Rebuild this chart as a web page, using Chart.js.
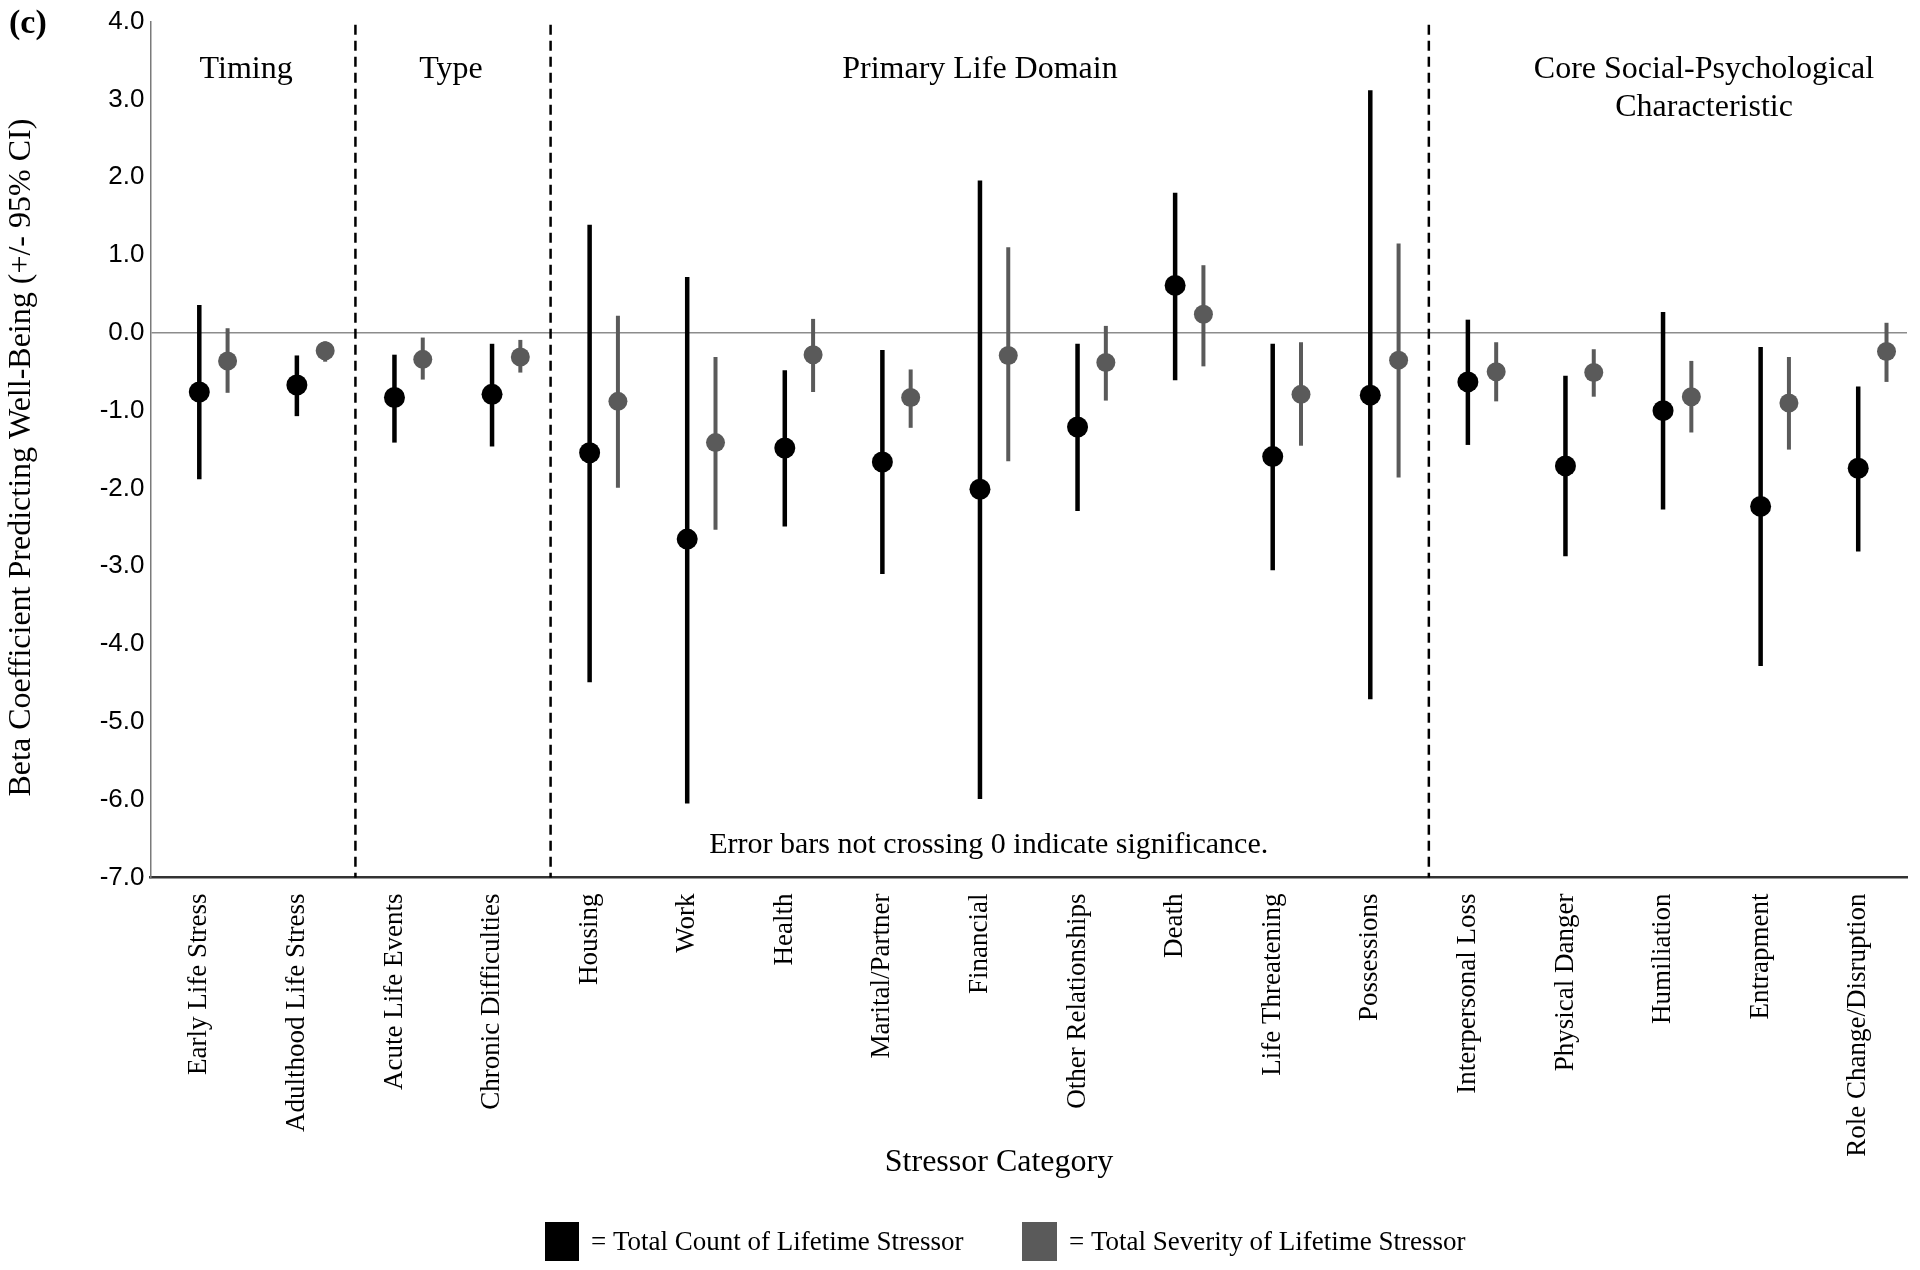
<!DOCTYPE html>
<html>
<head>
<meta charset="utf-8">
<title>Stressor category betas</title>
<script src="https://cdn.jsdelivr.net/npm/chart.js@4.4.0/dist/chart.umd.min.js"></script>
<style>
  html, body { margin: 0; padding: 0; background: #fff; overflow: hidden; }
  #wrap { width: 1920px; height: 1270px; position: relative; }
</style>
</head>
<body>
<div id="wrap"><canvas id="chart"></canvas></div>
<script>
// categorias del eje x
const categories = [
  "Early Life Stress", "Adulthood Life Stress", "Acute Life Events", "Chronic Difficulties",
  "Housing", "Work", "Health", "Marital/Partner", "Financial", "Other Relationships",
  "Death", "Life Threatening", "Possessions", "Interpersonal Loss", "Physical Danger",
  "Humiliation", "Entrapment", "Role Change/Disruption"
];

// total count of lifetime stressor (beta y 95% CI)
const countBeta = [-0.76, -0.67, -0.83, -0.79, -1.54, -2.65, -1.48, -1.66, -2.01, -1.21, 0.61, -1.59, -0.80, -0.63, -1.71, -1.00, -2.23, -1.74];
const countLow  = [-1.88, -1.07, -1.41, -1.46, -4.49, -6.05, -2.49, -3.10, -5.99, -2.29, -0.61, -3.05, -4.71, -1.44, -2.87, -2.27, -4.28, -2.81];
const countHigh = [ 0.36, -0.29, -0.28, -0.14,  1.39,  0.72, -0.48, -0.22,  1.96, -0.14,  1.80, -0.14,  3.12,  0.17, -0.55,  0.27, -0.18, -0.69];

// total severity of lifetime stressor
const severityBeta = [-0.36, -0.23, -0.34, -0.31, -0.88, -1.41, -0.28, -0.83, -0.29, -0.38, 0.24, -0.79, -0.35, -0.50, -0.51, -0.82, -0.90, -0.24];
const severityLow  = [-0.77, -0.37, -0.60, -0.51, -1.99, -2.53, -0.76, -1.22, -1.65, -0.87, -0.43, -1.45, -1.86, -0.88, -0.82, -1.28, -1.50, -0.63];
const severityHigh = [ 0.06, -0.11, -0.06, -0.09,  0.22, -0.31,  0.18, -0.47,  1.10,  0.09,  0.87, -0.12,  1.15, -0.12, -0.21, -0.36, -0.31,  0.13];

// separadores de grupos (en unidades de categoria) y titulos de grupo
const groupDividers = [1.6, 3.6, 12.6];
const groupLabels = [
  { x: 0.48, lines: ["Timing"] },
  { x: 2.58, lines: ["Type"] },
  { x: 8.0,  lines: ["Primary Life Domain"] },
  { x: 15.42, lines: ["Core Social-Psychological", "Characteristic"] }
];

const yTicks = [4, 3, 2, 1, 0, -1, -2, -3, -4, -5, -6, -7];

const BLACK = "#000000";
const GREY = "#5a5a5a";
const SEV_SHIFT = 0.29; // desplazamiento del segundo punto dentro de cada categoria
const SERIF = "'Liberation Serif', 'Times New Roman', serif";
const SANS = "'Liberation Sans', Arial, sans-serif";

const countPoints = countBeta.map((v, i) => ({ x: i, y: v }));
const severityPoints = severityBeta.map((v, i) => ({ x: i + SEV_SHIFT, y: v }));

// barras de error + lineas discontinuas
const errorBarsPlugin = {
  id: "errorBars",
  beforeDatasetsDraw(chart) {
    const { ctx, chartArea, scales: { x, y } } = chart;
    ctx.save();

    // separadores
    ctx.strokeStyle = "#000";
    ctx.lineWidth = 2.5;
    ctx.setLineDash([10, 6]);
    groupDividers.forEach(d => {
      const px = x.getPixelForValue(d);
      ctx.beginPath();
      ctx.moveTo(px, chartArea.top + 3);
      ctx.lineTo(px, chartArea.bottom);
      ctx.stroke();
    });
    ctx.setLineDash([]);

    const drawBars = (low, high, shift, color, width) => {
      ctx.strokeStyle = color;
      ctx.lineWidth = width;
      low.forEach((lo, i) => {
        const px = x.getPixelForValue(i + shift);
        ctx.beginPath();
        ctx.moveTo(px, y.getPixelForValue(lo));
        ctx.lineTo(px, y.getPixelForValue(high[i]));
        ctx.stroke();
      });
    };
    drawBars(countLow, countHigh, 0, BLACK, 4.5);
    drawBars(severityLow, severityHigh, SEV_SHIFT, GREY, 4);
    ctx.restore();
  },
  afterDraw(chart) {
    const { ctx, chartArea, scales: { x, y } } = chart;
    ctx.save();
    ctx.fillStyle = "#000";
    ctx.textAlign = "center";
    ctx.textBaseline = "middle";

    // titulos de grupo
    ctx.font = "32px " + SERIF;
    groupLabels.forEach(g => {
      g.lines.forEach((line, k) => {
        ctx.fillText(line, x.getPixelForValue(g.x), 70 + k * 38);
      });
    });

    // titulo eje x
    ctx.fillText("Stressor Category", 999, 1163);

    // titulo eje y
    ctx.save();
    ctx.translate(22, (chartArea.top + chartArea.bottom) / 2 + 8);
    ctx.rotate(-Math.PI / 2);
    ctx.fillText("Beta Coefficient Predicting Well-Being (+/- 95% CI)", 0, 0);
    ctx.restore();

    // nota
    ctx.font = "30px " + SERIF;
    ctx.fillText("Error bars not crossing 0 indicate significance.", x.getPixelForValue(8.09), y.getPixelForValue(-6.58));

    // (c)
    ctx.font = "bold 34px " + SERIF;
    ctx.textAlign = "left";
    ctx.fillText("(c)", 9, 24);

    // leyenda
    ctx.font = "27px " + SERIF;
    ctx.fillStyle = BLACK;
    ctx.fillRect(545, 1222, 34, 39);
    ctx.fillStyle = GREY;
    ctx.fillRect(1022, 1222, 35, 39);
    ctx.fillStyle = "#000";
    ctx.fillText("= Total Count of Lifetime Stressor", 591, 1243);
    ctx.fillText("= Total Severity of Lifetime Stressor", 1069, 1243);
    ctx.restore();
  }
};

new Chart(document.getElementById("chart"), {
  type: "scatter",
  data: {
    datasets: [
      {
        label: "Total Count of Lifetime Stressor",
        data: countPoints,
        backgroundColor: BLACK,
        borderColor: BLACK,
        pointRadius: 10.5,
        pointBorderWidth: 0
      },
      {
        label: "Total Severity of Lifetime Stressor",
        data: severityPoints,
        backgroundColor: GREY,
        borderColor: GREY,
        pointRadius: 9.5,
        pointBorderWidth: 0
      }
    ]
  },
  options: {
    responsive: true,
    maintainAspectRatio: false,
    animation: false,
    layout: { padding: { top: 21.7, right: 13, left: 0, bottom: 0 } },
    plugins: { legend: { display: false }, tooltip: { enabled: false } },
    scales: {
      x: {
        type: "linear",
        min: -0.5,
        max: 17.5,
        afterBuildTicks: scale => { scale.ticks = categories.map((c, i) => ({ value: i })); },
        afterFit: scale => { scale.height = 392.5; },
        grid: { display: false, drawTicks: false },
        border: { display: true, color: "#333333", width: 2.5 },
        ticks: {
          autoSkip: false,
          minRotation: 90,
          maxRotation: 90,
          padding: 16,
          color: "#000",
          font: { family: SERIF, size: 27 },
          callback: v => categories[Math.round(v)]
        }
      },
      y: {
        min: -7,
        max: 4,
        afterBuildTicks: scale => { scale.ticks = yTicks.map(v => ({ value: v })); },
        afterFit: scale => { scale.width = 150.5; },
        grid: {
          drawTicks: false,
          color: c => c.tick && c.tick.value === 0 ? "#8c8c8c" : "rgba(0,0,0,0)",
          lineWidth: 1.5
        },
        border: { display: true, color: "#7a7a7a", width: 1.5 },
        ticks: {
          padding: 6,
          color: "#000",
          font: { family: SANS, size: 26 },
          callback: v => Number(v).toFixed(1)
        }
      }
    }
  },
  plugins: [errorBarsPlugin]
});
</script>
</body>
</html>
